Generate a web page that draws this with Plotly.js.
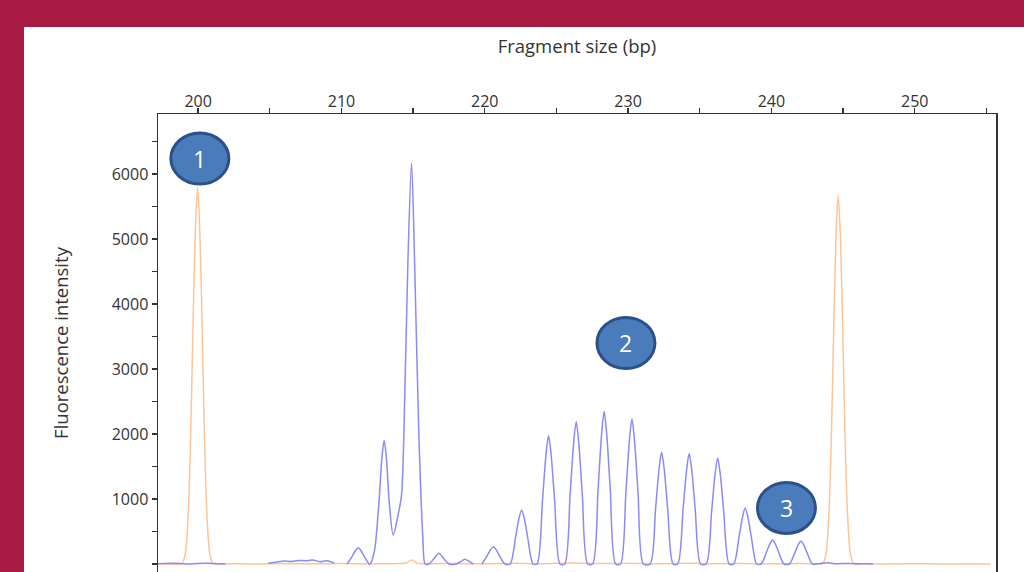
<!DOCTYPE html>
<html>
<head>
<meta charset="utf-8">
<script src="https://cdn.plot.ly/plotly-3.0.1.min.js"></script>
<style>
html,body{margin:0;padding:0;background:#A91B42;width:1024px;height:572px;overflow:hidden;}
#chart{position:absolute;left:24px;top:27px;width:1000px;height:545px;background:#fff;}
</style>
</head>
<body>
<div id="chart"></div>
<script>
// Blue trace (sample fragments) – fragment size (bp) vs fluorescence
var blueX = [197.2,198.5,199.5,200.5,201.5,201.9,202.5,
  204.9,205.5,206.0,206.5,207.0,207.5,208.0,208.5,209.0,209.5,210.0,
  210.4,210.77,211.0,211.17,211.34,211.57,211.94,
  212.0,212.3,212.6,212.83,212.98,213.13,213.35,213.61,213.9,214.19,214.42,214.63,214.89,215.12,215.4,215.68,215.84,
  216.1,216.45,216.8,217.15,217.5,
  218.0,218.35,218.61,218.9,219.2,219.6,
  219.8,220.18,220.42,220.6,220.78,221.02,221.4,
  221.77,222.15,222.39,222.57,222.75,222.99,223.37,
  223.65,224.03,224.27,224.45,224.63,224.87,225.25,
  225.58,225.96,226.20,226.38,226.56,226.80,227.18,
  227.53,227.91,228.15,228.33,228.51,228.75,229.13,
  229.47,229.85,230.09,230.27,230.45,230.69,231.07,
  231.54,231.92,232.16,232.34,232.52,232.76,233.14,
  233.46,233.84,234.08,234.26,234.44,234.68,235.06,
  235.45,235.83,236.07,236.25,236.43,236.67,237.05,
  237.37,237.75,237.99,238.17,238.35,238.59,238.97,
  239.28,239.66,239.90,240.08,240.26,240.50,240.88,
  241.26,241.64,241.88,242.06,242.24,242.48,242.86,
  243.3,243.9,244.4,245.5,246.5,247.1];
var blueY = [5,10,0,12,5,0,null,
  10,30,45,40,55,50,60,35,50,15,null,
  0,125,215,250,215,125,0,
  0,200,900,1650,1900,1650,900,446,700,1060,2600,4600,6170,4500,2000,400,0,
  0,80,165,80,0,
  0,40,75,40,0,null,
  0,132,225,265,225,132,0,
  0,415,705,830,705,415,0,
  0,988,1680,1975,1680,988,0,
  0,1095,1860,2190,1860,1095,0,
  0,1172,1995,2345,1995,1172,0,
  0,1115,1895,2230,1895,1115,0,
  0,860,1460,1720,1460,860,0,
  0,850,1445,1700,1445,850,0,
  0,815,1385,1630,1385,815,0,
  0,430,730,860,730,430,0,
  0,185,315,370,315,185,0,
  0,178,302,355,302,178,0,
  5,20,5,8,3,0];

// Orange trace (size standard)
var orangeX = [197.2,198.0,198.86,199.11,199.31,199.47,199.63,199.80,199.96,200.12,200.29,200.45,200.61,200.81,201.06,
  202,204,206,208,210,212,214.0,214.5,214.9,215.3,216,218,220,222,224,226,228,230,232,234,236,238,240,242,243.3,
  243.56,243.81,244.01,244.17,244.33,244.50,244.66,244.82,244.99,245.15,245.31,245.51,245.76,
  246.5,248,250,252,254,255.3];
var orangeY = [5,0,0,165,785,1880,3520,5110,5800,5110,3520,1880,785,165,0,
  5,0,8,3,6,2,8,15,60,12,4,8,3,10,5,15,6,12,4,10,5,8,3,6,2,
  0,160,770,1840,3450,5000,5680,5000,3450,1840,770,160,0,
  5,0,4,0,3,0];

var xTickVals = [200,210,220,230,240,250];
var xTickText = ['200','210','220','230','240','250'];
var yTickVals = [0,1000,2000,3000,4000,5000,6000];
var yTickText = ['0','1000','2000','3000','4000','5000','6000'];

var markerLabels = ['1','2','3'];
var markerX = [200.12,229.85,241.05];
var markerY = [6238,3400,862];

var axisFont = {family:'Open Sans, sans-serif', size:16, color:'#333'};
var titleFont = {family:'Open Sans, sans-serif', size:18.5, color:'#333'};

var traces = [
  {x:orangeX, y:orangeY, type:'scatter', mode:'lines', connectgaps:false,
   line:{color:'rgb(255,196,150)', width:1.5, shape:'spline', smoothing:0.8}, hoverinfo:'skip'},
  {x:blueX, y:blueY, type:'scatter', mode:'lines', connectgaps:false,
   line:{color:'rgb(138,138,250)', width:1.5, shape:'spline', smoothing:0.8}, hoverinfo:'skip'}
];

var shapes = [], annotations = [];
for (var i=0;i<markerLabels.length;i++){
  shapes.push({type:'circle', xref:'x', yref:'y', xsizemode:'pixel', ysizemode:'pixel',
    xanchor:markerX[i], yanchor:markerY[i], x0:-29, x1:29, y0:-25.5, y1:25.5,
    fillcolor:'#4A7BBB', line:{color:'#2C5188', width:3}, layer:'above'});
  annotations.push({xref:'x', yref:'y', x:markerX[i], y:markerY[i], text:markerLabels[i],
    showarrow:false, font:{family:'Open Sans, sans-serif', size:23, color:'#fff'}});
}

var layout = {
  width:1000, height:545,
  margin:{l:134, r:28, t:87, b:0},
  paper_bgcolor:'#fff', plot_bgcolor:'#fff',
  showlegend:false,
  xaxis:{side:'top', range:[197.2,255.67], tickvals:xTickVals, ticktext:xTickText,
    ticks:'outside', ticklen:5, tickwidth:1.3, tickcolor:'#333', ticklabelstandoff:-6,
    minor:{dtick:5, tick0:200, ticks:'outside', ticklen:5, tickwidth:1.3, tickcolor:'#333'},
    showline:true, linecolor:'#333', linewidth:1.5, mirror:false,
    showgrid:false, zeroline:false, tickfont:axisFont,
    title:{text:'Fragment size (bp)', font:titleFont, standoff:31}},
  yaxis:{range:[-123,6923], tickvals:yTickVals, ticktext:yTickText,
    ticks:'outside', ticklen:5, tickwidth:1.3, tickcolor:'#333',
    minor:{dtick:500, tick0:0, ticks:'outside', ticklen:5, tickwidth:1.3, tickcolor:'#333'},
    showline:true, linecolor:'#333', linewidth:1.5, mirror:true,
    showgrid:false, zeroline:false, tickfont:axisFont,
    title:{text:'Fluorescence intensity', font:titleFont, standoff:38}},
  shapes:shapes,
  annotations:annotations
};

Plotly.newPlot('chart', traces, layout, {displayModeBar:false, staticPlot:true});
</script>
</body>
</html>
